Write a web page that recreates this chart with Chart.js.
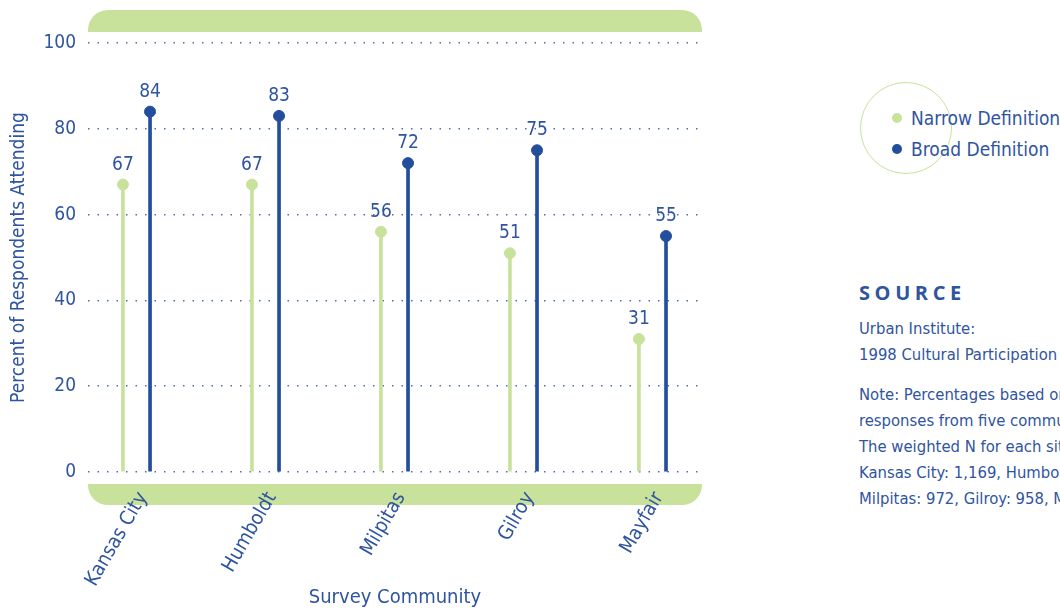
<!DOCTYPE html>
<html>
<head>
<meta charset="utf-8">
<script src="https://cdn.jsdelivr.net/npm/chart.js@4"></script>
<style>
  html, body { margin:0; padding:0; width:1060px; height:614px; overflow:hidden; background:#fff; }
  body { position:relative; font-family:'DejaVu Sans Condensed',sans-serif; font-stretch:condensed; color:#2f54a0; }
  #wrap { position:absolute; left:0; top:0; width:720px; height:614px; }
  .legend-circle { position:absolute; left:860px; top:82px; width:90px; height:90px; border:1.5px solid #c8e29c; border-radius:50%; }
  .leg { position:absolute; left:892px; font-size:19px; line-height:24px; white-space:nowrap; }
  .leg span.dot { display:inline-block; width:10px; height:10px; border-radius:50%; margin-right:9px; vertical-align:middle; position:relative; top:-2px; }
  .src-h { position:absolute; left:859px; top:279px; font-family:'Open Sans',sans-serif; font-stretch:normal; font-weight:700; font-size:20px; letter-spacing:4.6px; color:#2f54a0; }
  .src { position:absolute; left:859px; font-size:16.5px; line-height:26px; white-space:nowrap; }
</style>
</head>
<body>
<div id="wrap"><canvas id="c"></canvas></div>
<div class="legend-circle"></div>
<div class="leg" style="top:106px"><span class="dot" style="background:#c8e29c"></span>Narrow Definition</div>
<div class="leg" style="top:137px"><span class="dot" style="background:#234e9c"></span>Broad Definition</div>
<div class="src-h">SOURCE</div>
<div class="src" style="top:316px">Urban Institute:<br>1998 Cultural Participation Survey</div>
<div class="src" style="top:382px">Note: Percentages based on survey<br>responses from five communities.<br>The weighted N for each site is:<br>Kansas City: 1,169, Humboldt: 1,020,<br>Milpitas: 972, Gilroy: 958, Mayfair: 1,010</div>
<script>
const categories = ['Kansas City', 'Humboldt', 'Milpitas', 'Gilroy', 'Mayfair'];
const narrowValues = [67, 67, 56, 51, 31];
const broadValues = [84, 83, 72, 75, 55];
const yTickValues = [0, 20, 40, 60, 80, 100];
const seriesNames = ['Narrow Definition', 'Broad Definition'];

const GREEN = '#c8e29c';
const BLUE = '#234e9c';
const TEXT = '#2f54a0';
const FONT = "'DejaVu Sans Condensed',sans-serif";
const PAIR = 0.105;

const narrowPts = narrowValues.map((v, i) => ({x: i - PAIR, y: v}));
const broadPts = broadValues.map((v, i) => ({x: i + PAIR, y: v}));

const bandsPlugin = {
  id: 'bands',
  beforeDraw(chart) {
    const {ctx, chartArea} = chart;
    const l = chartArea.left, r = chartArea.right;
    ctx.save();
    ctx.fillStyle = GREEN;
    ctx.beginPath();
    ctx.roundRect(l, 10, r - l, 22, [20, 20, 0, 0]);
    ctx.fill();
    ctx.beginPath();
    ctx.roundRect(l, 484, r - l, 21, [0, 0, 20, 20]);
    ctx.fill();
    ctx.restore();
  }
};

const labelPlugin = {
  id: 'valLabels',
  afterDatasetsDraw(chart) {
    const {ctx} = chart;
    ctx.save();
    ctx.font = "19px " + FONT;
    ctx.fillStyle = TEXT;
    ctx.textAlign = 'center';
    ctx.textBaseline = 'middle';
    [2, 3].forEach(di => {
      const meta = chart.getDatasetMeta(di);
      meta.data.forEach((pt, i) => {
        const v = chart.data.datasets[di].data[i].y;
        ctx.fillText(String(v), pt.x, pt.y - 20);
      });
    });
    ctx.restore();
  }
};

new Chart(document.getElementById('c'), {
  data: {
    datasets: [
      {type: 'bar', label: seriesNames[0] + ' stem', data: narrowPts, backgroundColor: GREEN, barThickness: 3, grouped: false},
      {type: 'bar', label: seriesNames[1] + ' stem', data: broadPts, backgroundColor: BLUE, barThickness: 3, grouped: false},
      {type: 'scatter', label: seriesNames[0], data: narrowPts, backgroundColor: GREEN, borderColor: GREEN, pointRadius: 5.5, pointHoverRadius: 5.5},
      {type: 'scatter', label: seriesNames[1], data: broadPts, backgroundColor: BLUE, borderColor: BLUE, pointRadius: 5.5, pointHoverRadius: 5.5}
    ]
  },
  options: {
    responsive: true,
    maintainAspectRatio: false,
    animation: false,
    layout: {padding: {left: 0, right: 18, top: 43, bottom: 0}},
    plugins: {legend: {display: false}, tooltip: {enabled: false}},
    scales: {
      x: {
        type: 'linear',
        offset: false,
        min: -0.376,
        max: 4.384,
        grid: {display: false},
        border: {display: false},
        afterBuildTicks(scale) { scale.ticks = categories.map((c, i) => ({value: i + 0.05, label: c})); },
        afterFit(scale) { scale.height = 614 - 472; },
        ticks: {
          autoSkip: false,
          minRotation: 60,
          maxRotation: 60,
          padding: 8,
          color: TEXT,
          font: {family: FONT, size: 20},
          callback: (v) => categories[Math.round(v)]
        },
        title: {display: true, text: 'Survey Community', color: TEXT, font: {family: FONT, size: 20}, padding: {top: 0, bottom: 4}}
      },
      y: {
        min: 0,
        max: 100,
        afterBuildTicks(scale) { scale.ticks = yTickValues.map(v => ({value: v})); },
        afterFit(scale) { scale.width = 88; },
        grid: {color: '#4d6db0', lineWidth: 1.5, drawTicks: false},
        border: {display: false, dash: [1.5, 8]},
        ticks: {padding: 12, color: TEXT, font: {family: FONT, size: 19}},
        title: {display: true, text: 'Percent of Respondents Attending', color: TEXT, font: {family: FONT, size: 19}, padding: {top: 8, bottom: 0}}
      }
    }
  },
  plugins: [bandsPlugin, labelPlugin]
});
</script>
</body>
</html>
